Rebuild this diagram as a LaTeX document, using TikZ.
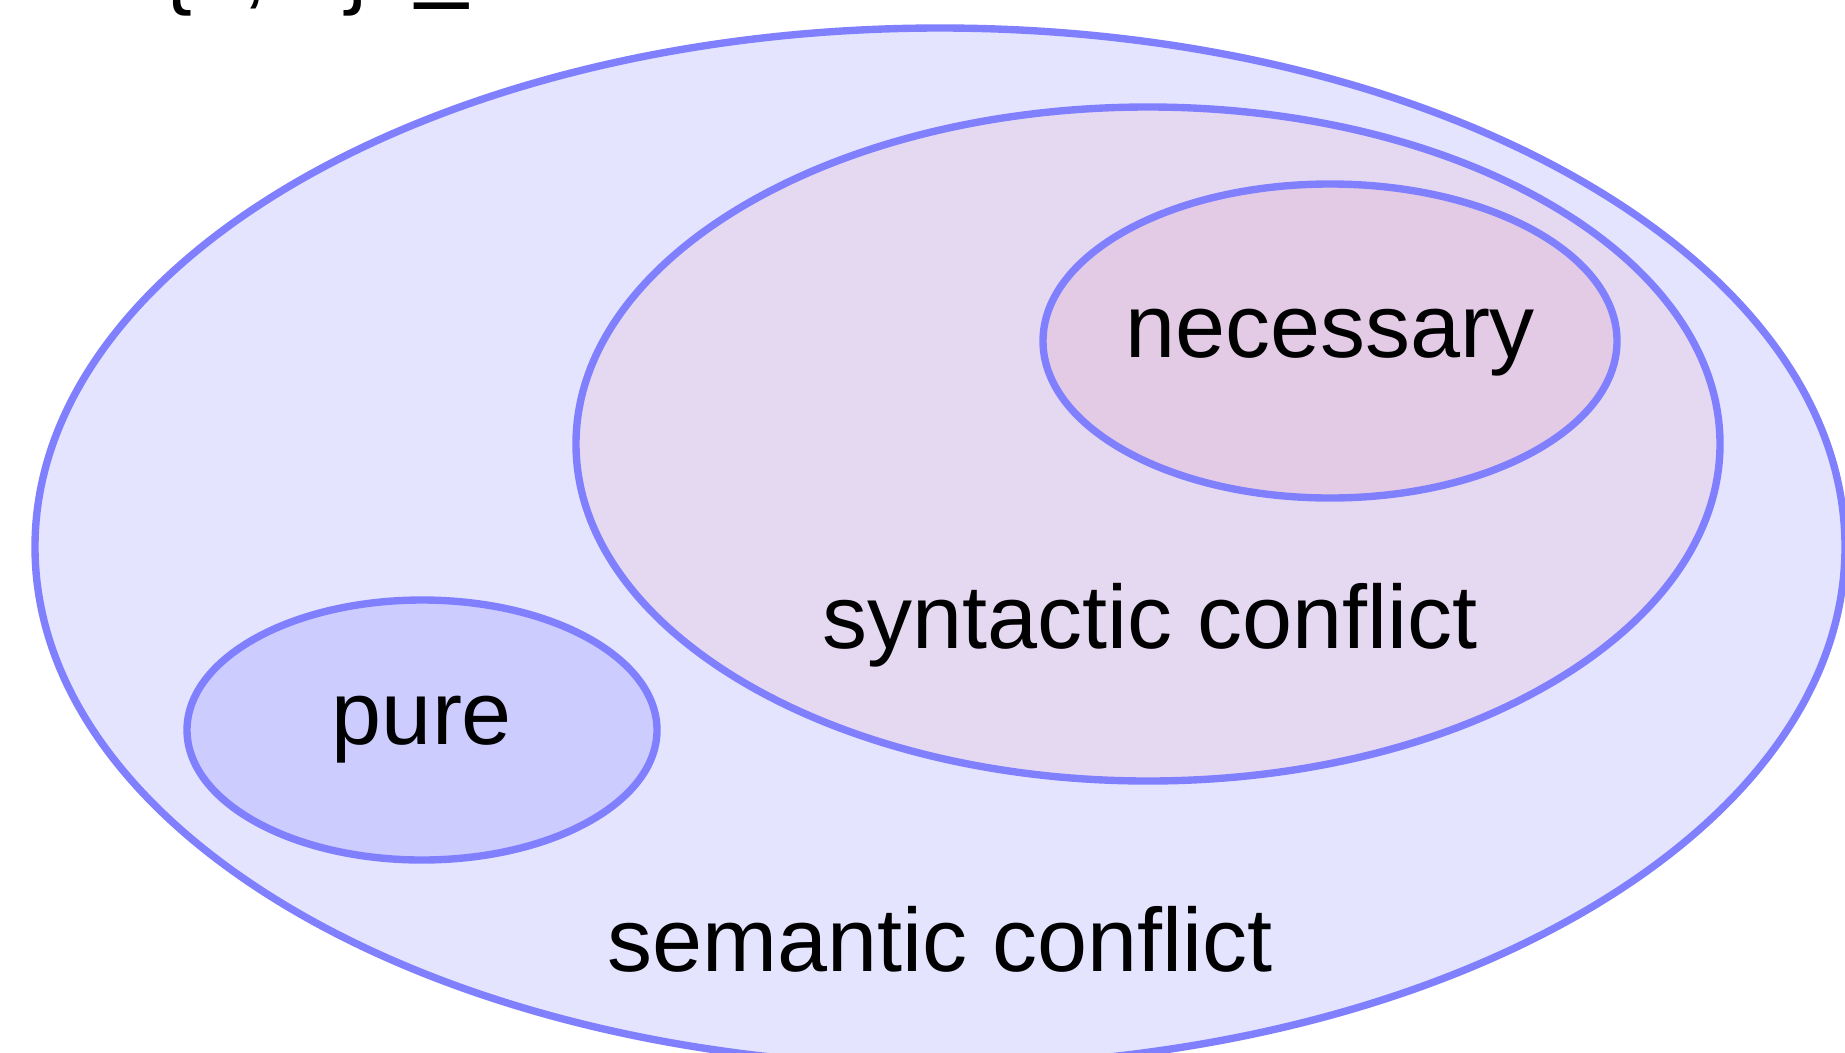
\documentclass[tikz,border=0pt]{standalone}
\usepackage{fontspec}
\setmainfont{Liberation Sans}
\newfontfamily\relfont{DejaVu Sans}
\definecolor{setline}{HTML}{8080FF}
\definecolor{semfill}{HTML}{E4E4FF}
\definecolor{synfill}{HTML}{E5D9F2}
\definecolor{necfill}{HTML}{E3CBE5}
\definecolor{purefill}{HTML}{CCCCFF}

\begin{document}
\begin{tikzpicture}
  [x=0.02cm,y=-0.02cm,every node/.style={inner sep=0,anchor=base,font=\fontsize{51.2}{60}\selectfont}]
  \useasboundingbox (0,0) rectangle (1845,1052);
  \clip (0,0) rectangle (1845,1052);

  \node (sub) [anchor=base west] at (162,-3) {\{\textit{a}, \textit{b}\}\hspace{0.35em}{\relfont\raisebox{-7pt}{⊆}}};

  \foreach \cx/\cy/\rx/\ry/\col in {940/547/905/519/semfill,1148/444/572/337/synfill,1330/341/287/157/necfill,422/730/235/130/purefill}
    \filldraw [line width=4.2pt,draw=setline,fill=\col] (\cx,\cy) ellipse [x radius=\rx, y radius=\ry];

  \node (nec) at (1330,357) {necessary};
  \node (syn) at (1150,648) {syntactic conflict};
  \node (pure) at (422,744) {pure};
  \node (sem) at (940,971) {semantic conflict};

\end{tikzpicture}
\end{document}
